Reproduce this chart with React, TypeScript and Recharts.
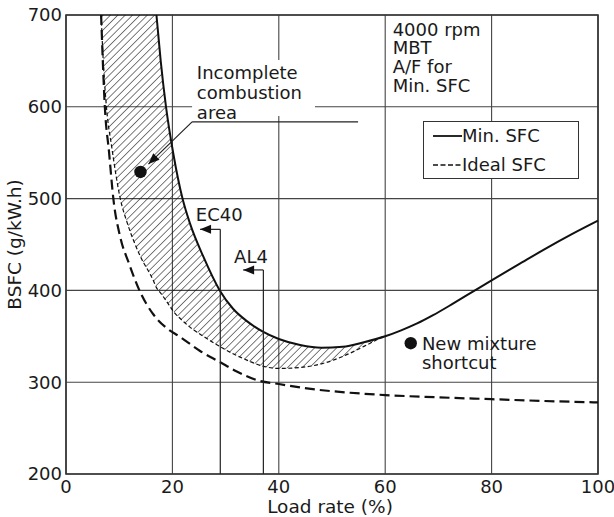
import {
  ComposedChart,
  Line,
  Area,
  XAxis,
  YAxis,
  CartesianGrid,
  ReferenceArea,
  ReferenceLine,
  ReferenceDot,
  Legend,
} from 'recharts';

const FONT = 'DejaVu Sans';
const INK = '#1a1a1a';

const xTicks = [0, 20, 40, 60, 80, 100];
const yTicks = [200, 300, 400, 500, 600, 700];

// Min. SFC (solid curve)
const minSfcLoad = [17.0, 17.8, 18.8, 20.2, 21.9, 23.3, 25.8, 28.9, 31.4, 34, 37, 40, 44, 48, 52, 56, 60, 63, 66, 69, 72, 76, 80, 85, 90, 95, 100];
const minSfcValue = [700, 650, 600, 548, 500, 473, 437, 400, 380, 366.5, 355, 347, 340.5, 337.5, 338.5, 343.5, 350, 356.5, 364, 373, 383, 397, 411, 428, 445, 461, 476];

// Ideal SFC (thick dashed curve)
const idealLoad = [6.6, 7.3, 8.1, 8.9, 10.2, 11.8, 13.8, 16.4, 18.9, 21.4, 25.2, 28.9, 32, 36, 40, 47, 53.4, 60, 70, 80, 90, 100];
const idealValue = [700, 600, 550, 500, 458, 430, 400, 374, 359, 349.5, 334, 322, 312, 302, 298, 292, 288.5, 286, 283.5, 281.5, 279.5, 278];

// incomplete combustion band (hatched); lower edge = thin dashed line, upper edge = Min. SFC (runs off the top)
const bandLoad = [6.6, 7.0, 7.6, 8.6, 10.2, 11.6, 13.9, 16.4, 17.0, 17.8, 18.8, 20.2, 21.9, 23.3, 25.8, 28.9, 31.4, 34, 37, 40, 44, 48, 52, 56, 59.5];
const bandLow = [700, 650, 600, 556, 500, 472, 438, 411, 403, 397, 389, 377, 367, 360, 350, 339, 331, 324, 317.5, 315, 316, 320, 328, 339, 349.5];
const bandHigh = [740, 740, 740, 740, 740, 740, 740, 740, 700, 650, 600, 548, 500, 473, 437, 400, 380, 366.5, 355, 347, 340.5, 337.5, 338.5, 343.5, 349.5];

// annotations
const incompletePoint = { load: 14.0, bsfc: 529 };
const newMixturePoint = { load: 64.8, bsfc: 342.5 };
const ec40 = { load: 29, tipLoad: 25.2, bsfc: 466.5 };
const al4 = { load: 37.1, tipLoad: 33.3, bsfc: 422.3 };
const leader = { startLoad: 23.7, endLoad: 54.9, bsfc: 583.6, tipLoad: 15.5, tipBsfc: 537.6 };

const minSfcData = minSfcLoad.map((x, i) => ({ x, y: minSfcValue[i] }));
const idealData = idealLoad.map((x, i) => ({ x, y: idealValue[i] }));
const bandData = bandLoad.map((x, i) => ({ x, y: bandLow[i], range: [bandLow[i], bandHigh[i]] }));

const textBlock = (lines: string[], lineHeight: number) => (p: any) => (
  <text x={p.cx} y={p.cy} fontSize={18} fill={INK} fontFamily={FONT}>
    {lines.map((l, i) => (
      <tspan key={i} x={p.cx} dy={i === 0 ? 0 : lineHeight}>
        {l}
      </tspan>
    ))}
  </text>
);

const arrowHead = (angle: number) => (p: any) => (
  <polygon
    points="0,0 -11,-4.5 -11,4.5"
    transform={`translate(${p.cx},${p.cy}) rotate(${angle})`}
    fill="#111"
  />
);

const bigDot = (p: any) => <circle cx={p.cx} cy={p.cy} r={6.2} fill="#111" />;

const LegendBox = () => (
  <div
    style={{
      position: 'relative',
      width: 156,
      height: 58,
      boxSizing: 'border-box',
      border: '1.5px solid #333',
      background: '#fff',
      fontFamily: FONT,
      fontSize: 18,
      color: INK,
    }}
  >
    <div style={{ position: 'absolute', left: 9, top: 4, height: 20, display: 'flex', alignItems: 'center' }}>
      <svg width={29} height={10}>
        <line x1={0} y1={5} x2={29} y2={5} stroke="#111" strokeWidth={1.8} />
      </svg>
      <span style={{ lineHeight: '20px' }}>Min. SFC</span>
    </div>
    <div style={{ position: 'absolute', left: 9, top: 33, height: 20, display: 'flex', alignItems: 'center' }}>
      <svg width={29} height={10}>
        <line x1={0} y1={5} x2={29} y2={5} stroke="#111" strokeWidth={1.6} strokeDasharray="5 2.5" />
      </svg>
      <span style={{ lineHeight: '20px' }}>Ideal SFC</span>
    </div>
  </div>
);

export default function App() {
  return (
    <div style={{ position: 'absolute', left: 0, top: 0, background: '#fff' }}>
      <svg width={0} height={0} style={{ position: 'absolute' }}>
        <defs>
          <pattern id="hatch" width={5.2} height={5.2} patternUnits="userSpaceOnUse" patternTransform="rotate(45)">
            <line x1={0} y1={0} x2={0} y2={5.2} stroke="#111" strokeWidth={1.1} />
          </pattern>
        </defs>
      </svg>
      <ComposedChart
        width={614}
        height={517}
        margin={{ top: 15, right: 16, left: 0, bottom: 0 }}
        style={{ fontFamily: FONT }}
      >
        <CartesianGrid stroke="#444" strokeWidth={1.1} />
        <XAxis
          dataKey="x"
          type="number"
          domain={[0, 100]}
          ticks={xTicks}
          height={43}
          axisLine={false}
          tickLine={false}
          tickSize={0}
          tickMargin={6}
          tick={{ fontSize: 18, fill: INK, fontFamily: FONT }}
          label={{
            content: (props: any) => {
              const vb = props.viewBox;
              return (
                <text x={vb.x + vb.width / 2 - 2} y={vb.y + 38.5} textAnchor="middle" fontSize={18.5} fill={INK} fontFamily={FONT}>
                  Load rate (%)
                </text>
              );
            },
          }}
        />
        <YAxis
          type="number"
          domain={[200, 700]}
          allowDataOverflow
          ticks={yTicks}
          width={66}
          axisLine={false}
          tickLine={false}
          tickSize={0}
          tickMargin={4}
          tick={{ fontSize: 18, fill: INK, fontFamily: FONT }}
          label={{
            content: (props: any) => {
              const vb = props.viewBox;
              const cx = vb.x + 14;
              const cy = vb.y + vb.height / 2;
              return (
                <text
                  x={cx}
                  y={cy}
                  transform={`rotate(-90 ${cx} ${cy})`}
                  textAnchor="middle"
                  dominantBaseline="central"
                  fontSize={18.5}
                  fill={INK}
                  fontFamily={FONT}
                >
                  BSFC (g/kW.h)
                </text>
              );
            },
          }}
        />
        <ReferenceArea x1={23.7} x2={46.8} y1={590} y2={651} fill="#fff" fillOpacity={1} stroke="none" />
        <ReferenceArea x1={0} x2={100} y1={200} y2={700} fill="none" stroke="#333" strokeWidth={1.6} />

        <Area
          data={bandData}
          dataKey="range"
          type="monotone"
          stroke="none"
          fill="url(#hatch)"
          fillOpacity={1}
          isAnimationActive={false}
          legendType="none"
        />
        <Line
          data={bandData}
          dataKey="y"
          type="monotone"
          stroke="#111"
          strokeWidth={1.2}
          strokeDasharray="4 2.5"
          dot={false}
          isAnimationActive={false}
          legendType="none"
        />
        <Line
          data={idealData}
          dataKey="y"
          name="Ideal SFC"
          type="monotone"
          stroke="#111"
          strokeWidth={2.2}
          strokeDasharray="10 5"
          dot={false}
          isAnimationActive={false}
        />
        <Line
          data={minSfcData}
          dataKey="y"
          name="Min. SFC"
          type="monotone"
          stroke="#111"
          strokeWidth={2}
          dot={false}
          isAnimationActive={false}
        />

        {/* EC40 / AL4 markers */}
        <ReferenceLine segment={[{ x: ec40.load, y: 200 }, { x: ec40.load, y: ec40.bsfc }]} stroke="#222" strokeWidth={1.2} />
        <ReferenceLine segment={[{ x: ec40.tipLoad, y: ec40.bsfc }, { x: ec40.load, y: ec40.bsfc }]} stroke="#222" strokeWidth={1.2} />
        <ReferenceDot x={ec40.tipLoad} y={ec40.bsfc} shape={arrowHead(180)} />
        <ReferenceLine segment={[{ x: al4.load, y: 200 }, { x: al4.load, y: al4.bsfc }]} stroke="#222" strokeWidth={1.2} />
        <ReferenceLine segment={[{ x: al4.tipLoad, y: al4.bsfc }, { x: al4.load, y: al4.bsfc }]} stroke="#222" strokeWidth={1.2} />
        <ReferenceDot x={al4.tipLoad} y={al4.bsfc} shape={arrowHead(180)} />

        {/* incomplete combustion leader */}
        <ReferenceLine segment={[{ x: leader.startLoad, y: leader.bsfc }, { x: leader.endLoad, y: leader.bsfc }]} stroke="#222" strokeWidth={1.2} />
        <ReferenceLine segment={[{ x: leader.startLoad, y: leader.bsfc }, { x: leader.tipLoad, y: leader.tipBsfc }]} stroke="#222" strokeWidth={1.2} />
        <ReferenceDot x={leader.tipLoad} y={leader.tipBsfc} shape={arrowHead(136)} />

        <ReferenceDot x={incompletePoint.load} y={incompletePoint.bsfc} shape={bigDot} />
        <ReferenceDot x={newMixturePoint.load} y={newMixturePoint.bsfc} shape={bigDot} />

        <ReferenceDot x={24.6} y={630.6} shape={textBlock(['Incomplete', 'combustion', 'area'], 20)} />
        <ReferenceDot x={61.4} y={677.4} shape={textBlock(['4000 rpm', 'MBT', 'A/F for', 'Min. SFC'], 18.7)} />
        <ReferenceDot x={24.4} y={475.9} shape={textBlock(['EC40'], 20)} />
        <ReferenceDot x={31.6} y={429.9} shape={textBlock(['AL4'], 20)} />
        <ReferenceDot x={66.9} y={335.2} shape={textBlock(['New mixture', 'shortcut'], 19.3)} />

        <Legend
          layout="vertical"
          align="center"
          verticalAlign="middle"
          content={() => <LegendBox />}
          wrapperStyle={{ position: 'absolute', left: 423, top: 121, width: 156, height: 58 }}
        />
      </ComposedChart>
    </div>
  );
}
